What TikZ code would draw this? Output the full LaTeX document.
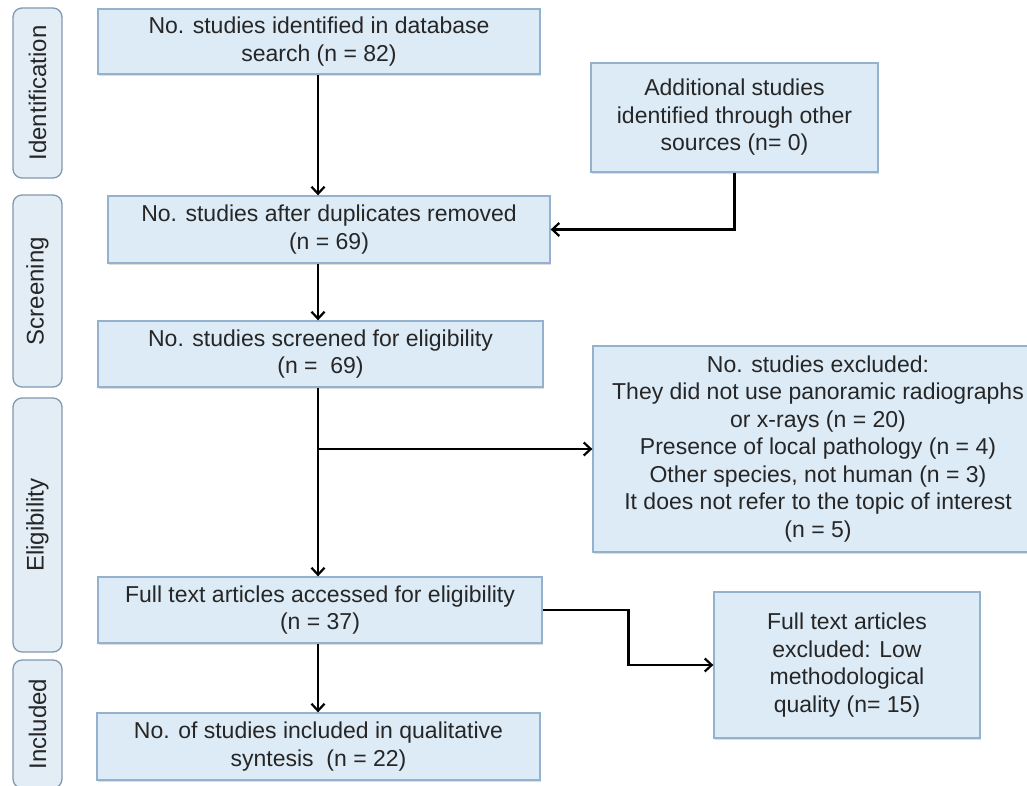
\documentclass[tikz,border=0pt]{standalone}
\usepackage{fontspec}
\setmainfont{Liberation Sans}
\usetikzlibrary{arrows.meta,shadows}
\definecolor{boxfill}{RGB}{221,235,246}
\definecolor{boxline}{RGB}{148,178,205}
\definecolor{sidefill}{RGB}{226,237,246}
\definecolor{sideline}{RGB}{130,152,176}
\tikzset{
  box/.style={draw=boxline, fill=boxfill, line width=1.3pt, inner sep=2pt, align=center,
    font=\fontsize{23}{27.5}\selectfont, text=black!85,
    drop shadow={shadow xshift=1.2pt, shadow yshift=-1.8pt, fill=black!22, opacity=0.6}},
  side/.style={draw=sideline, fill=sidefill, line width=1.3pt, rounded corners=9pt,
    rotate=90, minimum height=49pt, inner sep=0pt, font=\fontsize{24}{28}\selectfont, text=black!85},
  arr/.style={line width=2.4pt, -{Straight Barb[length=7pt,width=13pt,line width=2.2pt]}},
  ln/.style={line width=2.4pt}
}
\begin{document}
\begin{tikzpicture}[x=1pt,y=-1pt]
\clip (0,0) rectangle (1027,786);
\fill[white] (0,0) rectangle (1027,786);
\coordinate (sp) at (318,0);
% side bars
\node[side, minimum width=170pt] (sid) at (37.5,93) {Identification};
\node[side, minimum width=192pt] (sscr) at (37.5,291) {Screening};
\node[side, minimum width=254pt] (selig) at (37.5,525) {Eligibility};
\node[side, minimum width=128pt] (sinc) at (37.5,724) {Included};
% boxes
\node[box, minimum width=442pt, minimum height=65pt] (b1) at (319,41.5)
  {No. studies identified in database\\search (n = 82)};
\node[box, minimum width=442pt, minimum height=67pt] (b2) at (329,229.5)
  {No. studies after duplicates removed\\(n = 69)};
\node[box, minimum width=287pt, minimum height=109pt] (add) at (734.5,117.5)
  {Additional studies\\identified through other\\sources (n= 0)};
\node[box, minimum width=445pt, minimum height=66pt] (b3) at (320.5,354)
  {No. studies screened for eligibility\\(n =\ \ 69)};
\node[box, minimum width=450pt, minimum height=206pt] (excl) at (818,449)
  {No. studies excluded:\\They did not use panoramic radiographs\\or x-rays (n = 20)\\Presence of local pathology (n = 4)\\Other species, not human (n = 3)\\It does not refer to the topic of interest\\(n = 5)};
\node[box, minimum width=444pt, minimum height=66pt] (b4) at (320,610)
  {Full text articles accessed for eligibility\\(n = 37)};
\node[box, minimum width=266pt, minimum height=146pt] (fe) at (847,665)
  {Full text articles\\excluded: Low\\methodological\\quality (n= 15)};
\node[box, minimum width=443pt, minimum height=67pt] (b5) at (318.5,746.5)
  {No. of studies included in qualitative\\syntesis\ \ (n = 22)};
% connectors
\draw[arr] (b1.south -| sp) -- (b2.north -| sp);
\draw[arr] (add.south) |- (b2.east);
\draw[arr] (b2.south -| sp) -- (b3.north -| sp);
\draw[arr] (b3.south -| sp) -- (b4.north -| sp);
\draw[arr] (sp |- excl.west) -- (excl.west);
\draw[arr] (b4.east) -- ++(86,0) |- (fe.west);
\draw[arr] (b4.south -| sp) -- (b5.north -| sp);
\end{tikzpicture}
\end{document}
